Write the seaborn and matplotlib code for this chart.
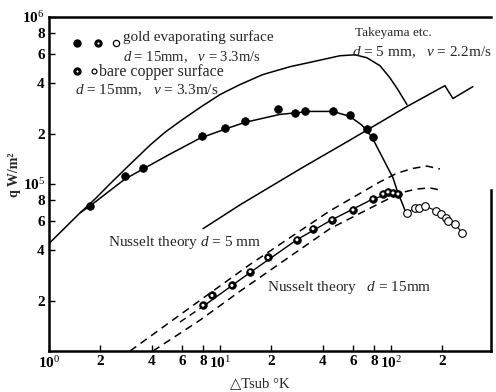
import matplotlib
matplotlib.use("Agg")
import matplotlib.pyplot as plt
import seaborn as sns
from matplotlib.ticker import FixedLocator, FixedFormatter, NullLocator

# ---------------- data (ΔTsub in K, q in W/m²) ----------------
# upper solid curve (rises, peaks, drops onto Takeyama line)
upper_dT = [1.0, 1.24, 1.52, 1.86, 2.27, 2.86, 3.90, 4.77, 5.83, 7.64, 10.0, 13.1, 17.8, 25.7, 35.0, 50.3,
            61.6, 72.4, 86.3, 98.6, 109.9, 124.1]
upper_q = [4.40e4, 5.47e4, 6.72e4, 8.14e4, 1.0e5, 1.26e5, 1.71e5, 2.04e5, 2.37e5, 2.87e5, 3.43e5, 3.94e5,
           4.52e5, 5.04e5, 5.40e5, 5.86e5, 5.94e5, 5.70e5, 5.11e5, 4.33e5, 3.67e5, 2.99e5]

# fitted curve through gold evaporating surface points (upper group)
goldfit_dT = [1.52, 1.74, 2.78, 3.55, 5.10, 7.64, 10.7, 14.0, 22.4, 33.6, 45.8, 57.5, 67.7, 77.4, 102.8,
              109.9, 117.5, 122.4]
goldfit_q = [6.72e4, 7.40e4, 1.07e5, 1.23e5, 1.51e5, 1.88e5, 2.13e5, 2.34e5, 2.61e5, 2.72e5, 2.72e5, 2.54e5,
             2.25e5, 1.91e5, 1.09e5, 8.84e4, 7.50e4, 6.72e4]

# gold evaporating surface, filled points
gold_dT = [1.74, 2.78, 3.55, 7.85, 10.7, 14.0, 21.8, 27.5, 31.4, 45.8, 57.5, 72.4, 78.5]
gold_q = [7.40e4, 1.12e5, 1.24e5, 1.93e5, 2.15e5, 2.37e5, 2.80e5, 2.65e5, 2.72e5, 2.72e5, 2.58e5, 2.13e5, 1.91e5]

# lower group (bare copper / gold, half-filled) points
low_dT = [7.96, 8.98, 11.75, 15.0, 19.1, 28.2, 35.0, 45.2, 60.0, 78.5, 89.8, 96.0, 102.8, 109.9]
low_q = [1.88e4, 2.15e4, 2.47e4, 2.99e4, 3.63e4, 4.64e4, 5.40e4, 6.11e4, 7.00e4, 8.14e4, 8.72e4, 8.96e4,
         8.84e4, 8.72e4]

# fit line through the lower group
lowfit_dT = [7.96, 15.0, 28.2, 45.2, 78.5, 102.8, 109.9]
lowfit_q = [1.85e4, 2.95e4, 4.64e4, 6.11e4, 8.14e4, 8.84e4, 8.72e4]
lowext_dT = [5.83, 7.96]
lowext_q = [1.49e4, 1.85e4]

# open circles (beyond peak)
open_dT = [124.1, 138.2, 145.8, 158.0, 183.4, 196.0, 209.7, 215.4, 236.7, 260.1]
open_q = [6.72e4, 7.20e4, 7.20e4, 7.40e4, 6.91e4, 6.63e4, 6.28e4, 6.02e4, 5.78e4, 5.11e4]

# Nusselt theory d = 5 mm
nus5_dT = [2.98, 7.64, 15.0, 44.0, 86.3, 108.4, 134.5, 162.4, 193.5]
nus5_q = [1.0e4, 2.01e4, 3.30e4, 6.91e4, 1.03e5, 1.16e5, 1.24e5, 1.28e5, 1.23e5]

# Nusselt theory d = 15 mm
nus15_dT = [4.06, 7.64, 13.1, 44.0, 112.9, 142.0, 169.2, 193.5]
nus15_q = [1.0e4, 1.53e4, 2.28e4, 5.40e4, 8.84e4, 9.34e4, 9.47e4, 9.21e4]

# Takeyama etc. d = 5 mm, v = 2.2 m/s
take_dT = [7.96, 13.1, 29.4, 57.5, 124.1, 206.9, 230.6, 301.8]
take_q = [5.40e4, 7.50e4, 1.23e5, 1.83e5, 2.91e5, 3.88e5, 3.25e5, 3.83e5]

xticks = [1, 2, 4, 6, 8, 10, 20, 40, 60, 80, 100, 200]
xlabels = ["10$^0$", "2", "4", "6", "8", "10$^1$", "2", "4", "6", "8", "10$^2$", "2"]
yticks = [2e4, 4e4, 6e4, 8e4, 1e5, 2e5, 4e5, 6e5, 8e5, 1e6]
ylabels = ["2", "4", "6", "8", "10$^5$", "2", "4", "6", "8", "10$^6$"]

# ---------------- style ----------------
sns.set_style("ticks")
plt.rcParams['font.family'] = ['Liberation Serif', 'DejaVu Sans']
plt.rcParams['mathtext.fontset'] = 'custom'
plt.rcParams['mathtext.rm'] = 'Liberation Serif'
plt.rcParams['mathtext.it'] = 'Liberation Serif:italic'
plt.rcParams['mathtext.bf'] = 'Liberation Serif:bold'

fig = plt.figure(figsize=(4.96, 3.92), dpi=100)
ax = fig.add_axes([49 / 496, 1 - 351 / 392, 442 / 496, 334 / 392])
ax.set_xscale('log')
ax.set_yscale('log')

def line(x, y, ls='-', lw=1.1):
    sns.lineplot(x=x, y=y, ax=ax, sort=False, estimator=None, color='black',
                 linestyle=ls, linewidth=lw, legend=False)

dash = (0, (5, 3.5))
line(upper_dT, upper_q)
line(goldfit_dT, goldfit_q)
line(lowfit_dT, lowfit_q, lw=1.0)
line(lowext_dT, lowext_q, ls=dash, lw=1.0)
line(open_dT, open_q, lw=0.8)
line(nus5_dT, nus5_q, ls=dash)
line(nus15_dT, nus15_q, ls=dash)
line(take_dT, take_q)

sns.scatterplot(x=gold_dT, y=gold_q, ax=ax, s=30, color='black', edgecolor='black', linewidth=0.6, zorder=5)
sns.scatterplot(x=low_dT, y=low_q, ax=ax, s=30, color='black', edgecolor='black', linewidth=0.6, zorder=5)
sns.scatterplot(x=low_dT, y=low_q, ax=ax, s=5, color='white', edgecolor='none', linewidth=0, zorder=6)
sns.scatterplot(x=open_dT, y=open_q, ax=ax, s=30, color='white', edgecolor='black', linewidth=0.8, zorder=5)

ax.set_xlim(1, 385)
ax.set_ylim(1e4, 1e6)

ax.xaxis.set_major_locator(FixedLocator(xticks))
ax.xaxis.set_major_formatter(FixedFormatter(xlabels))
ax.xaxis.set_minor_locator(NullLocator())
ax.yaxis.set_major_locator(FixedLocator(yticks))
ax.yaxis.set_major_formatter(FixedFormatter(ylabels))
ax.yaxis.set_minor_locator(NullLocator())
ax.tick_params(axis='both', which='major', direction='in', length=4, width=1.0,
               labelsize=11, pad=3, colors='black')
for lab in ax.get_xticklabels() + ax.get_yticklabels():
    lab.set_fontweight('bold')

for s in ['left', 'bottom', 'top', 'right']:
    ax.spines[s].set_linewidth(1.8)
    ax.spines[s].set_color('black')
ax.spines['right'].set_bounds(1e4, 9.2e4)

# in-figure legend text
T = ax.transAxes
ax.plot([0.063], [0.922], 'o', color='black', ms=5, transform=T, clip_on=False)
ax.plot([0.111], [0.922], 'o', color='black', ms=5, mfc='black', transform=T, clip_on=False)
ax.plot([0.111], [0.922], 'o', color='white', ms=1.6, mec='none', transform=T, clip_on=False)
ax.plot([0.152], [0.922], 'o', mfc='white', mec='black', ms=4.5, mew=0.9, transform=T, clip_on=False)
ax.text(0.168, 0.940, "gold evaporating surface", transform=T, fontsize=11, va='center', ha='left')
ax.text(0.168, 0.880, "$d$ = 15mm,   $v$ = 3.3m/s", transform=T, fontsize=10.5, va='center', ha='left')
ax.plot([0.063], [0.838], 'o', color='black', ms=5, transform=T, clip_on=False)
ax.plot([0.063], [0.838], 'o', color='white', ms=1.6, mec='none', transform=T, clip_on=False)
ax.plot([0.101], [0.838], 'o', mfc='white', mec='black', ms=3.5, mew=0.9, transform=T, clip_on=False)
ax.text(0.113, 0.836, "bare copper surface", transform=T, fontsize=11.5, va='center', ha='left')
ax.text(0.058, 0.780, "$d$ = 15mm,   $v$ = 3.3m/s", transform=T, fontsize=11, va='center', ha='left')

ax.text(0.692, 0.952, "Takeyama etc.", transform=T, fontsize=9.5, va='center', ha='left')
ax.text(0.686, 0.895, "$d$ = 5 mm,   $v$ = 2.2m/s", transform=T, fontsize=11, va='center', ha='left')
ax.text(0.133, 0.326, "Nusselt theory $d$ = 5 mm", transform=T, fontsize=11, va='center', ha='left')
ax.text(0.493, 0.189, "Nusselt theory   $d$ = 15mm", transform=T, fontsize=11, va='center', ha='left')

fig.text(0.030, 0.553, "q W/m²", rotation=90, fontsize=10, va='center', ha='center', fontweight='bold')
fig.text(0.524, 0.020, "△Tsub °K", fontsize=10.5, va='center', ha='center')

fig.savefig("out.png", dpi=100)
